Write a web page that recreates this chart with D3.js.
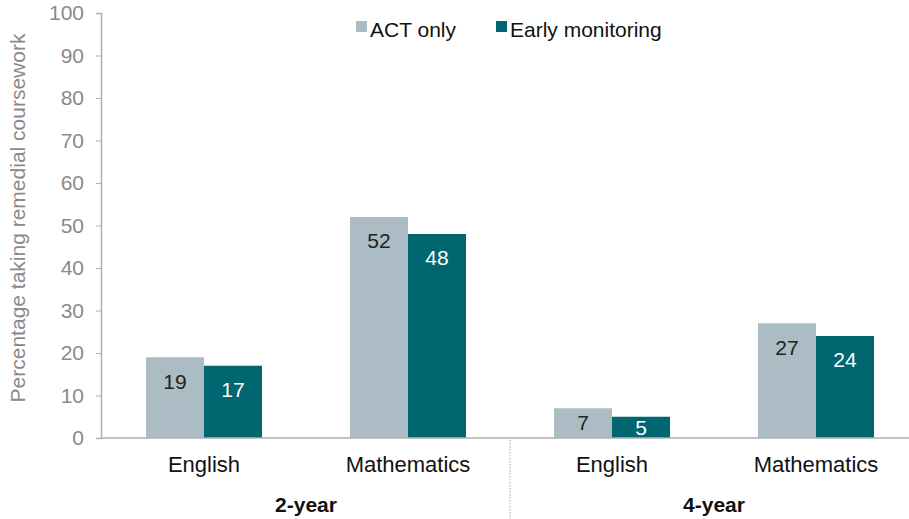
<!DOCTYPE html>
<html><head><meta charset="utf-8">
<script src="https://cdn.jsdelivr.net/npm/d3@7"></script>
<style>body{margin:0;background:#fff}svg{display:block}</style>
</head><body>
<svg id="c" width="909" height="519"></svg>
<script>
const categories = ["2-year|English","2-year|Mathematics","4-year|English","4-year|Mathematics"];
const categoryLabels = ["English","Mathematics","English","Mathematics"];
const groups = ["2-year","4-year"];
const seriesNames = ["ACT only","Early monitoring"];
const actOnly = [19,52,7,27];
const earlyMonitoring = [17,48,5,24];
const yTicks = [0,10,20,30,40,50,60,70,80,90,100];
const colors = ["#abbcc4","#006670"];
const labelColors = ["#222","#fff"];

const svg = d3.select("#c");
const font = "'Liberation Sans', Arial, sans-serif";
const y = d3.scaleLinear().domain([0,100]).range([438,13]);
const x = d3.scaleBand().domain(categories).range([102,918]).paddingInner(0).paddingOuter(0);
const xs = d3.scaleBand().domain(seriesNames).range([0,x.bandwidth()]).paddingInner(0).paddingOuter(0.7586);
const series = [actOnly, earlyMonitoring];

// y axis
const yAxis = svg.append("g").attr("transform","translate(101,0)")
  .call(d3.axisLeft(y).tickValues(yTicks).tickSize(5).tickPadding(12));
yAxis.select(".domain").attr("stroke","#b0b0b0").attr("stroke-width",1.5);
yAxis.selectAll(".tick line").attr("stroke","#b0b0b0");
yAxis.selectAll(".tick text").attr("font-family",font).attr("font-size",21).attr("fill","#8a8a8a");

// bars
series.forEach((vals,si)=>{
  svg.append("g").selectAll("rect").data(categories).join("rect")
    .attr("x",d=>x(d)+xs(seriesNames[si]))
    .attr("width",xs.bandwidth())
    .attr("y",(d,i)=>y(vals[i]))
    .attr("height",(d,i)=>y(0)-y(vals[i]))
    .attr("fill",colors[si]);
  svg.append("g").selectAll("text").data(categories).join("text")
    .attr("x",d=>x(d)+xs(seriesNames[si])+xs.bandwidth()/2)
    .attr("y",(d,i)=>Math.min(y(vals[i])+24,(y(vals[i])+y(0))/2))
    .attr("dy","0.35em")
    .attr("text-anchor","middle")
    .attr("font-family",font).attr("font-size",21)
    .attr("fill",labelColors[si])
    .text((d,i)=>vals[i]);
});

// x axis line
svg.append("line").attr("x1",101).attr("x2",909).attr("y1",y(0)).attr("y2",y(0))
  .attr("stroke","#b0b0b0").attr("stroke-width",1.5);

// category labels
svg.append("g").selectAll("text").data(categories).join("text")
  .attr("x",d=>x(d)+x.bandwidth()/2).attr("y",472)
  .attr("text-anchor","middle").attr("font-family",font).attr("font-size",22).attr("fill","#111")
  .text((d,i)=>categoryLabels[i]);

// group labels
svg.append("g").selectAll("text").data(groups).join("text")
  .attr("x",(g,gi)=>(x(categories[gi*2])+x(categories[gi*2+1])+x.bandwidth())/2)
  .attr("y",512).attr("text-anchor","middle").attr("font-family",font)
  .attr("font-size",21).attr("font-weight","bold").attr("fill","#111")
  .text(g=>g);

// divider
svg.append("line").attr("x1",x(categories[2])).attr("x2",x(categories[2]))
  .attr("y1",440).attr("y2",519).attr("stroke","#aaa").attr("stroke-dasharray","1.5,1.5");

// y title
svg.append("text").attr("transform","translate(25,218) rotate(-90)")
  .attr("text-anchor","middle").attr("font-family",font).attr("font-size",21).attr("fill","#8a8a8a")
  .text("Percentage taking remedial coursework");

// legend
const leg = [{x:356},{x:496}];
seriesNames.forEach((s,i)=>{
  svg.append("rect").attr("x",leg[i].x).attr("y",21).attr("width",11).attr("height",11).attr("fill",colors[i]);
  svg.append("text").attr("x",leg[i].x+14).attr("y",37).attr("font-family",font)
    .attr("font-size",21).attr("fill","#111").text(s);
});
</script>
</body></html>
